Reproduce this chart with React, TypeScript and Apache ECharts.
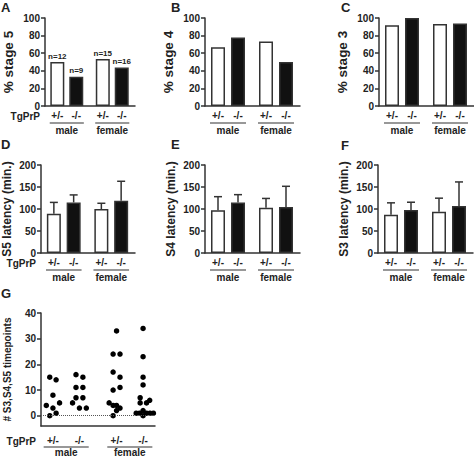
import React, { useEffect, useRef } from "react";
import * as echarts from "echarts";

// ---- data ----
const groupPos = [0, 1, 2.4, 3.4];
const genotypeLabels = ["+/-", "-/-", "+/-", "-/-"];
const sexLabels = ["male", "female"];
const sexCenters = [0.5, 2.9];

const stage5Pct = [50, 33.3, 53.3, 43.8];
const stage5N = ["n=12", "n=9", "n=15", "n=16"];
const stage4Pct = [66.7, 77.8, 73.3, 50];
const stage3Pct = [91.7, 100, 93.3, 93.8];

const s5Mean = [89, 115, 100, 119];
const s5Err = [26, 17, 13, 44];
const s4Mean = [97, 114.6, 103, 104.6];
const s4Err = [31, 18, 21, 47];
const s3Mean = [87, 97.7, 93.8, 107];
const s3Err = [27, 17.7, 30.8, 54.5];

const gMaleHet = [15, 14, 8, 4, 3, 5, 1, 0];
const gMaleHetJit = [-0.12, 0.12, 0, -0.25, 0, 0.25, 0.12, -0.12];
const gMaleKo = [16, 15, 11, 11, 7, 7, 5, 3, 3];
const gMaleKoJit = [-0.13, 0.13, -0.13, 0.13, -0.13, 0.13, -0.26, 0, 0.26];
const gFemHet = [33, 24, 24, 17, 15, 10, 11, 5, 4, 4, 3, 2, 0];
const gFemHetJit = [0, -0.13, 0.13, -0.13, 0.13, -0.13, 0.13, -0.28, -0.13, 0, 0.13, 0, -0.13];
const gFemKo = [34, 23, 15, 12, 7, 5, 5, 6, 1, 1, 2, 1, 1, 1, 0];
const gFemKoJit = [0, 0, 0, 0, -0.11, -0.11, 0.13, 0.25, -0.26, -0.13, 0, 0.13, 0.26, 0.39, 0];

const yTicksG = [0, 10, 20, 30, 40];

// ---- style ----
const FONT = "'Liberation Sans', Arial, Helvetica, sans-serif";
const INK = "#222222";
const AXIS = "#333333";

type BarPanel = {
  letter: string;
  left: number;
  top: number;
  vals: number[];
  err?: number[];
  yMax: number;
  yInt: number;
  title: string;
  titleSize: number;
  n?: string[];
  tg: boolean;
};

const barPanels: BarPanel[] = [
  { letter: "A", left: 40, top: 18, vals: stage5Pct, yMax: 100, yInt: 20, title: "% stage 5", titleSize: 13.5, n: stage5N, tg: true },
  { letter: "B", left: 205, top: 18, vals: stage4Pct, yMax: 100, yInt: 20, title: "% stage 4", titleSize: 13.5, tg: false },
  { letter: "C", left: 379, top: 18, vals: stage3Pct, yMax: 100, yInt: 20, title: "% stage 3", titleSize: 13.5, tg: false },
  { letter: "D", left: 40, top: 165, vals: s5Mean, err: s5Err, yMax: 200, yInt: 50, title: "S5 latency (min.)", titleSize: 12, tg: true },
  { letter: "E", left: 205, top: 165, vals: s4Mean, err: s4Err, yMax: 200, yInt: 50, title: "S4 latency (min.)", titleSize: 12, tg: false },
  { letter: "F", left: 378, top: 165, vals: s3Mean, err: s3Err, yMax: 200, yInt: 50, title: "S3 latency (min.)", titleSize: 12, tg: false },
];

const BAR_XMIN = -0.65;
const BAR_XMAX = 4.1;
const G_XMIN = -0.45;
const G_XMAX = 3.85;
const G_YMIN = -4;

function nearestIdx(v: number) {
  let best = 0;
  for (let i = 1; i < groupPos.length; i++) {
    if (Math.abs(groupPos[i] - v) < Math.abs(groupPos[best] - v)) best = i;
  }
  return Math.abs(groupPos[best] - v) < 0.05 ? best : -1;
}

const labelFormatter = (v: number) => {
  const i = nearestIdx(v);
  return i >= 0 ? genotypeLabels[i] : "";
};

export default function App() {
  const ref = useRef<HTMLDivElement>(null);

  useEffect(() => {
    if (!ref.current) return;
    const chart = echarts.init(ref.current, undefined, { renderer: "svg" });

    const grids: any[] = [];
    const xAxes: any[] = [];
    const yAxes: any[] = [];
    const series: any[] = [];

    const axisLine = { show: true, onZero: false, lineStyle: { color: AXIS, width: 1.5 } };
    const tickText = { fontSize: 10, fontWeight: "bold", fontFamily: FONT, color: INK };

    barPanels.forEach((p, i) => {
      grids.push({ left: p.left, top: p.top, width: 95, height: 88 });
      xAxes.push({
        type: "value",
        gridIndex: i,
        min: BAR_XMIN,
        max: BAR_XMAX,
        axisLine,
        axisTick: { show: false },
        splitLine: { show: false },
        axisLabel: { ...tickText, customValues: groupPos, formatter: labelFormatter, margin: 4 },
      });
      yAxes.push({
        type: "value",
        gridIndex: i,
        min: 0,
        max: p.yMax,
        interval: p.yInt,
        axisLine,
        axisTick: { show: true, length: 4, lineStyle: { color: AXIS, width: 1.5 } },
        splitLine: { show: false },
        axisLabel: { ...tickText, margin: 5 },
        name: p.title,
        nameLocation: "middle",
        nameGap: p.titleSize > 13 ? 30 : 28,
        nameTextStyle: { fontSize: p.titleSize, fontWeight: "bold", fontFamily: FONT, color: INK },
      });
      series.push({
        type: "bar",
        xAxisIndex: i,
        yAxisIndex: i,
        barWidth: 14,
        z: 2,
        data: groupPos.map((x, k) => ({
          value: [x, p.vals[k]],
          itemStyle: { color: k % 2 === 0 ? "#ffffff" : "#111111", borderColor: AXIS, borderWidth: 1.5, opacity: 1 },
        })),
        label: p.n
          ? {
              show: true,
              position: "top",
              distance: 2,
              formatter: (q: any) => p.n![q.dataIndex],
              fontSize: 8,
              fontWeight: "bold",
              fontFamily: FONT,
              color: INK,
            }
          : { show: false },
      });
      if (p.err) {
        series.push({
          type: "custom",
          xAxisIndex: i,
          yAxisIndex: i,
          z: 3,
          encode: { x: 0, y: 1 },
          data: groupPos.map((x, k) => [x, p.vals[k], p.err![k]]),
          renderItem: (_params: any, api: any) => {
            const x = api.value(0);
            const m = api.value(1);
            const e = api.value(2);
            const p0 = api.coord([x, m]);
            const p1 = api.coord([x, m + e]);
            const st = { stroke: AXIS, lineWidth: 1.5, fill: "none" };
            return {
              type: "group",
              children: [
                { type: "line", shape: { x1: p0[0], y1: p0[1], x2: p1[0], y2: p1[1] }, style: st },
                { type: "line", shape: { x1: p1[0] - 4, y1: p1[1], x2: p1[0] + 4, y2: p1[1] }, style: st },
              ],
            };
          },
        });
      }
    });

    // Panel G
    const gi = 6;
    grids.push({ left: 41, top: 313, width: 114, height: 113 });
    xAxes.push({
      type: "value",
      gridIndex: gi,
      min: G_XMIN,
      max: G_XMAX,
      axisLine,
      axisTick: { show: false },
      splitLine: { show: false },
      axisLabel: { ...tickText, customValues: groupPos, formatter: labelFormatter, margin: 9 },
    });
    yAxes.push({
      type: "value",
      gridIndex: gi,
      min: G_YMIN,
      max: 40,
      axisLine,
      axisTick: { show: true, length: 4, customValues: yTicksG, lineStyle: { color: AXIS, width: 1.5 } },
      splitLine: { show: false },
      axisLabel: { ...tickText, margin: 5, customValues: yTicksG },
      name: "# S3,S4,S5 timepoints",
      nameLocation: "middle",
      nameGap: 29,
      nameTextStyle: { fontSize: 10, fontWeight: "bold", fontFamily: FONT, color: INK },
    });
    const groupsG = [
      [gMaleHet, gMaleHetJit],
      [gMaleKo, gMaleKoJit],
      [gFemHet, gFemHetJit],
      [gFemKo, gFemKoJit],
    ];
    const dots: number[][] = [];
    groupsG.forEach(([vals, jit], g) => {
      vals.forEach((v, k) => dots.push([groupPos[g] + jit[k], v]));
    });
    series.push({
      type: "scatter",
      xAxisIndex: gi,
      yAxisIndex: gi,
      symbol: "circle",
      symbolSize: 5.5,
      itemStyle: { color: "#000000", opacity: 1 },
      data: dots,
      markLine: {
        silent: true,
        symbol: "none",
        label: { show: false },
        lineStyle: { type: "dotted", color: "#555555", width: 1 },
        data: [{ yAxis: 0 }],
      },
    });

    chart.setOption({
      animation: false,
      backgroundColor: "#ffffff",
      grid: grids,
      xAxis: xAxes,
      yAxis: yAxes,
      series,
    });

    // decorations: group labels, underlines, TgPrP, panel letters
    const px = (i: number, x: number) => chart.convertToPixel({ xAxisIndex: i } as any, x) as unknown as number;
    const py = (i: number, y: number) => chart.convertToPixel({ yAxisIndex: i } as any, y) as unknown as number;

    const graphics: any[] = [];
    const textStyle = (text: string, x: number, y: number, align: string, size = 10) => ({
      type: "text",
      style: {
        text,
        x,
        y,
        align,
        verticalAlign: "middle",
        fontSize: size,
        fontWeight: "bold",
        fontFamily: FONT,
        fill: INK,
      },
    });

    const panelsMeta = [
      ...barPanels.map((p, i) => ({ i, yMin: 0, xMin: BAR_XMIN, tg: p.tg, tickOff: 10, lineOff: 17, textOff: 24, hw: 0.9 })),
      { i: gi, yMin: G_YMIN, xMin: G_XMIN, tg: true, tickOff: 15, lineOff: 21, textOff: 26, hw: 0.85 },
    ];
    panelsMeta.forEach((m) => {
      const base = py(m.i, m.yMin);
      sexCenters.forEach((c, s) => {
        const x1 = px(m.i, c - m.hw);
        const x2 = px(m.i, c + m.hw);
        graphics.push({
          type: "line",
          shape: { x1, y1: base + m.lineOff, x2, y2: base + m.lineOff },
          style: { stroke: AXIS, lineWidth: 1.2 },
        });
        graphics.push(textStyle(sexLabels[s], px(m.i, c), base + m.textOff, "center"));
      });
      if (m.tg) {
        graphics.push(textStyle("TgPrP", px(m.i, m.xMin) - 5, base + m.tickOff, "right"));
      }
    });

    const letters = [
      { t: "A", x: 1, y: 1 },
      { t: "B", x: 171, y: 1 },
      { t: "C", x: 341, y: 1 },
      { t: "D", x: 1, y: 138 },
      { t: "E", x: 171, y: 138 },
      { t: "F", x: 341, y: 139 },
      { t: "G", x: 1, y: 287 },
    ];
    letters.forEach((l) => {
      graphics.push({
        type: "text",
        style: {
          text: l.t,
          x: l.x,
          y: l.y,
          align: "left",
          verticalAlign: "top",
          fontSize: 13,
          fontWeight: "bold",
          fontFamily: FONT,
          fill: INK,
        },
      });
    });

    chart.setOption({ graphic: graphics });

    return () => {
      chart.dispose();
    };
  }, []);

  return (
    <div
      ref={ref}
      style={{ position: "fixed", left: 0, top: 0, width: 474, height: 457, background: "#fff" }}
    />
  );
}
